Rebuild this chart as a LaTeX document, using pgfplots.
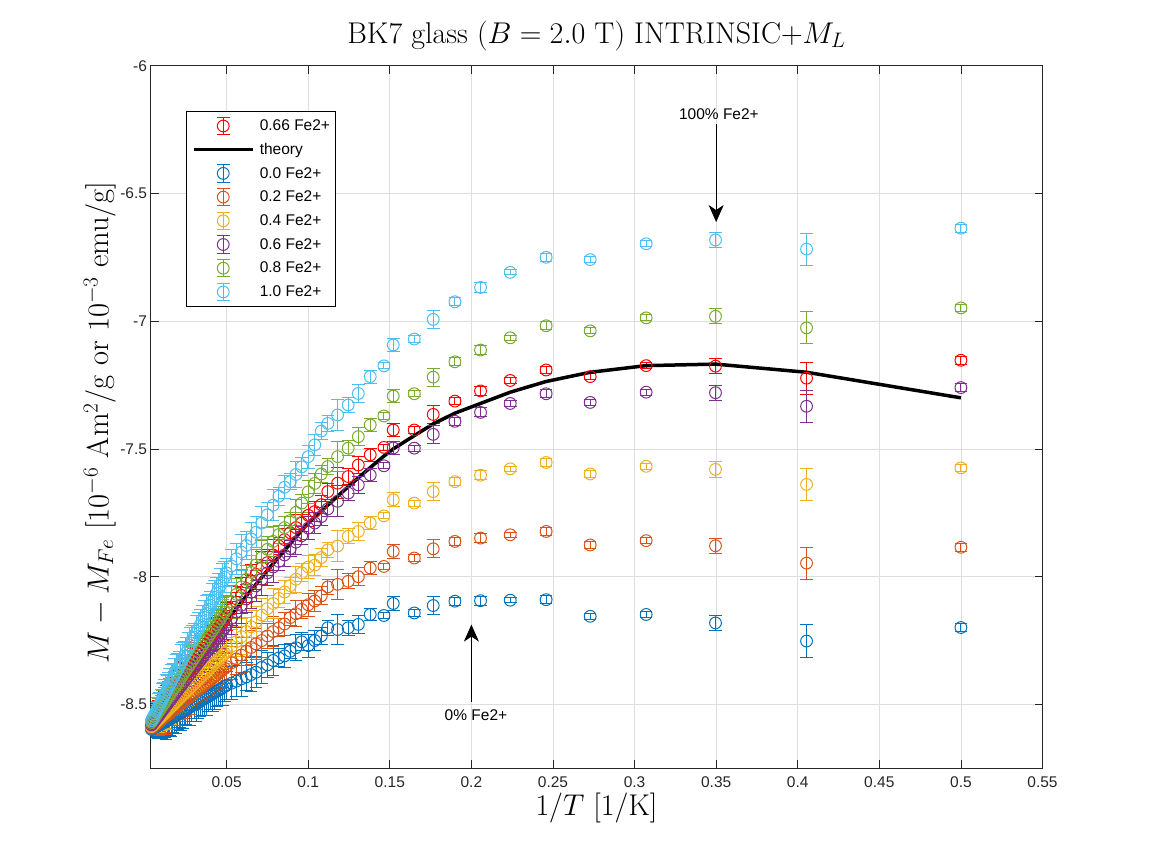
\RequirePackage{fix-cm}
\documentclass[border=0pt]{standalone}
\usepackage{fontspec}
\usepackage{pgfplots}
\pgfplotsset{compat=1.18}
\usepackage{pgfplotstable}
\usetikzlibrary{arrows.meta}
\newfontfamily\arial{Liberation Sans}
\definecolor{c0}{rgb}{0,0.447,0.741}
\definecolor{c1}{rgb}{0.85,0.325,0.098}
\definecolor{c2}{rgb}{0.929,0.694,0.125}
\definecolor{c3}{rgb}{0.494,0.184,0.556}
\definecolor{c4}{rgb}{0.466,0.674,0.188}
\definecolor{c5}{rgb}{0.301,0.745,0.933}
\definecolor{cR}{rgb}{1,0,0}
\definecolor{gridc}{RGB}{222,222,222}
\definecolor{axc}{RGB}{38,38,38}

\pgfplotstableread{
x err y0 y2 y4 y6 y8 y10 yR th
0.00333 0.020 -8.600 -8.595 -8.590 -8.585 -8.575 -8.570 -8.580 -8.557
0.0039 0.025 -8.598 -8.593 -8.587 -8.580 -8.570 -8.563 -8.575 -8.552
0.0045 0.025 -8.596 -8.590 -8.583 -8.575 -8.564 -8.555 -8.569 -8.547
0.00525 0.030 -8.593 -8.586 -8.578 -8.569 -8.557 -8.546 -8.563 -8.541
0.006 0.035 -8.590 -8.582 -8.573 -8.562 -8.550 -8.537 -8.556 -8.535
0.00675 0.035 -8.588 -8.578 -8.568 -8.556 -8.543 -8.528 -8.549 -8.529
0.0075 0.045 -8.585 -8.574 -8.563 -8.550 -8.535 -8.518 -8.542 -8.522
0.00825 0.050 -8.583 -8.570 -8.559 -8.544 -8.528 -8.509 -8.535 -8.516
0.009 0.045 -8.580 -8.566 -8.554 -8.537 -8.521 -8.499 -8.528 -8.510
0.00975 0.050 -8.577 -8.562 -8.549 -8.531 -8.514 -8.490 -8.522 -8.504
0.0105 0.060 -8.574 -8.558 -8.544 -8.524 -8.506 -8.480 -8.515 -8.497
0.01125 0.055 -8.572 -8.554 -8.540 -8.518 -8.499 -8.471 -8.508 -8.491
0.012 0.060 -8.569 -8.550 -8.535 -8.511 -8.492 -8.462 -8.501 -8.485
0.01275 0.070 -8.566 -8.546 -8.530 -8.505 -8.485 -8.453 -8.494 -8.479
0.0135 0.055 -8.563 -8.542 -8.525 -8.499 -8.477 -8.443 -8.487 -8.472
0.01425 0.060 -8.561 -8.538 -8.520 -8.493 -8.470 -8.434 -8.481 -8.466
0.015 0.065 -8.558 -8.534 -8.515 -8.486 -8.463 -8.424 -8.474 -8.460
0.016 0.070 -8.555 -8.529 -8.509 -8.478 -8.454 -8.412 -8.465 -8.452
0.017 0.060 -8.551 -8.524 -8.503 -8.469 -8.444 -8.399 -8.455 -8.443
0.018 0.065 -8.547 -8.519 -8.497 -8.461 -8.435 -8.387 -8.446 -8.435
0.019 0.070 -8.543 -8.513 -8.490 -8.452 -8.425 -8.374 -8.437 -8.427
0.020 0.060 -8.540 -8.508 -8.484 -8.444 -8.415 -8.362 -8.428 -8.419
0.021 0.055 -8.536 -8.503 -8.477 -8.435 -8.405 -8.349 -8.419 -8.410
0.022 0.070 -8.532 -8.498 -8.471 -8.427 -8.396 -8.337 -8.410 -8.402
0.023 0.065 -8.528 -8.492 -8.464 -8.418 -8.386 -8.324 -8.401 -8.394
0.024 0.060 -8.524 -8.487 -8.458 -8.410 -8.377 -8.312 -8.392 -8.386
0.025 0.060 -8.520 -8.482 -8.452 -8.401 -8.367 -8.299 -8.383 -8.377
0.02625 0.065 -8.516 -8.476 -8.444 -8.391 -8.355 -8.284 -8.372 -8.367
0.0275 0.070 -8.511 -8.469 -8.436 -8.380 -8.343 -8.268 -8.360 -8.356
0.02875 0.060 -8.506 -8.463 -8.428 -8.369 -8.331 -8.253 -8.349 -8.346
0.030 0.055 -8.501 -8.456 -8.420 -8.358 -8.319 -8.237 -8.337 -8.336
0.03125 0.070 -8.497 -8.450 -8.412 -8.348 -8.307 -8.221 -8.326 -8.326
0.0325 0.065 -8.492 -8.443 -8.404 -8.337 -8.295 -8.205 -8.314 -8.315
0.03375 0.060 -8.487 -8.437 -8.396 -8.327 -8.283 -8.190 -8.303 -8.305
0.035 0.060 -8.482 -8.430 -8.388 -8.316 -8.271 -8.174 -8.292 -8.294
0.03625 0.065 -8.478 -8.424 -8.380 -8.306 -8.259 -8.159 -8.281 -8.284
0.0375 0.070 -8.473 -8.417 -8.372 -8.295 -8.247 -8.143 -8.269 -8.274
0.03875 0.060 -8.468 -8.411 -8.364 -8.285 -8.235 -8.128 -8.258 -8.264
0.040 0.055 -8.463 -8.404 -8.356 -8.274 -8.223 -8.112 -8.246 -8.253
0.04125 0.070 -8.459 -8.398 -8.348 -8.263 -8.211 -8.096 -8.235 -8.243
0.0425 0.065 -8.454 -8.391 -8.340 -8.252 -8.199 -8.080 -8.223 -8.232
0.04375 0.060 -8.449 -8.385 -8.332 -8.242 -8.187 -8.065 -8.212 -8.222
0.045 0.060 -8.444 -8.378 -8.324 -8.231 -8.175 -8.049 -8.201 -8.211
0.04625 0.065 -8.440 -8.372 -8.316 -8.221 -8.163 -8.034 -8.190 -8.201
0.0475 0.070 -8.435 -8.365 -8.308 -8.210 -8.151 -8.018 -8.178 -8.191
0.04875 0.060 -8.430 -8.359 -8.300 -8.200 -8.139 -8.002 -8.167 -8.181
0.050 0.055 -8.425 -8.352 -8.292 -8.189 -8.127 -7.985 -8.155 -8.170
0.053 0.065 -8.417 -8.337 -8.273 -8.163 -8.098 -7.958 -8.128 -8.147
0.056 0.060 -8.409 -8.322 -8.254 -8.138 -8.069 -7.930 -8.100 -8.123
0.059 0.070 -8.400 -8.307 -8.235 -8.112 -8.040 -7.904 -8.073 -8.100
0.062 0.055 -8.392 -8.292 -8.215 -8.087 -8.011 -7.878 -8.046 -8.076
0.065 0.065 -8.383 -8.277 -8.196 -8.061 -7.983 -7.852 -8.018 -8.053
0.068 0.060 -8.374 -8.263 -8.177 -8.036 -7.954 -7.826 -7.991 -8.030
0.0715 0.065 -8.355 -8.250 -8.150 -8.010 -7.925 -7.790 -7.965 -8.003
0.075 0.050 -8.345 -8.232 -8.125 -7.985 -7.893 -7.758 -7.945 -7.975
0.0785 0.060 -8.328 -8.215 -8.105 -7.962 -7.862 -7.720 -7.915 -7.949
0.082 0.035 -8.318 -8.200 -8.085 -7.940 -7.835 -7.685 -7.880 -7.923
0.0855 0.045 -8.310 -8.185 -8.060 -7.915 -7.808 -7.650 -7.855 -7.897
0.089 0.030 -8.292 -8.160 -8.035 -7.890 -7.780 -7.628 -7.828 -7.871
0.0925 0.050 -8.278 -8.145 -8.010 -7.865 -7.748 -7.600 -7.808 -7.845
0.096 0.035 -8.255 -8.128 -7.985 -7.840 -7.712 -7.570 -7.790 -7.819
0.100 0.045 -8.270 -8.110 -7.962 -7.810 -7.668 -7.530 -7.760 -7.790
0.104 0.040 -8.250 -8.095 -7.955 -7.790 -7.635 -7.484 -7.745 -7.766
0.108 0.035 -8.232 -8.075 -7.925 -7.765 -7.598 -7.430 -7.718 -7.743
0.112 0.030 -8.200 -8.040 -7.895 -7.735 -7.569 -7.400 -7.667 -7.720
0.118 0.060 -8.207 -8.030 -7.880 -7.705 -7.530 -7.367 -7.634 -7.685
0.1245 0.030 -8.200 -8.018 -7.842 -7.673 -7.497 -7.328 -7.608 -7.648
0.1307 0.035 -8.187 -8.000 -7.823 -7.641 -7.452 -7.283 -7.563 -7.613
0.138 0.025 -8.148 -7.966 -7.790 -7.602 -7.406 -7.217 -7.523 -7.573
0.1464 0.012 -8.152 -7.960 -7.762 -7.566 -7.371 -7.175 -7.494 -7.528
0.1521 0.027 -8.105 -7.901 -7.699 -7.496 -7.293 -7.093 -7.426 -7.500
0.1650 0.012 -8.142 -7.927 -7.712 -7.497 -7.284 -7.070 -7.426 -7.448
0.1766 0.035 -8.113 -7.891 -7.667 -7.443 -7.219 -6.993 -7.365 -7.402
0.1899 0.015 -8.096 -7.862 -7.628 -7.392 -7.159 -6.924 -7.313 -7.360
0.2056 0.018 -8.094 -7.849 -7.603 -7.357 -7.113 -6.868 -7.273 -7.322
0.2238 0.010 -8.092 -7.836 -7.578 -7.322 -7.065 -6.809 -7.232 -7.278
0.2458 0.015 -8.090 -7.823 -7.553 -7.284 -7.018 -6.750 -7.191 -7.236
0.2728 0.012 -8.155 -7.876 -7.598 -7.318 -7.038 -6.759 -7.217 -7.200
0.3071 0.012 -8.148 -7.859 -7.568 -7.278 -6.987 -6.697 -7.174 -7.174
0.3496 0.030 -8.181 -7.879 -7.580 -7.280 -6.981 -6.682 -7.176 -7.168
0.4054 0.063 -8.252 -7.947 -7.639 -7.333 -7.026 -6.718 -7.223 -7.200
0.5 0.015 -8.199 -7.885 -7.574 -7.260 -6.948 -6.636 -7.153 -7.300
}\data

\newcommand{\ebsym}[1]{%
  \path[draw=none, fill=none] (0pt,-11.85pt) rectangle (59pt,11.85pt);
  \draw[#1, line width=1pt] (29.5pt,-8.7pt) -- (29.5pt,8.7pt)
     (23.2pt,8.7pt) -- (35.8pt,8.7pt) (23.2pt,-8.7pt) -- (35.8pt,-8.7pt);
  \draw[#1, line width=1pt, fill=none] (29.5pt,0pt) circle (5.9pt);
}
\newcommand{\lnsym}{%
  \path[draw=none, fill=none] (0pt,-11.85pt) rectangle (59pt,11.85pt);
  \draw[black, line width=3.5pt] (0pt,0pt) -- (59pt,0pt);
}

\pgfplotsset{
  ebplot/.style={only marks, mark=o, color=#1, mark size=5.9pt,
    mark options={line width=1pt, solid},
    error bars/y dir=both, error bars/y explicit,
    error bars/error bar style={line width=1pt, color=#1},
    error bars/error mark options={rotate=90, line width=1pt, mark size=6.3pt, color=#1}},
}

\begin{document}
\begin{tikzpicture}
\path[use as bounding box] (0,0) rectangle (1152pt,864pt);
\begin{axis}[
  at={(150.5pt,95.7pt)}, anchor=south west,
  scale only axis, width=892pt, height=702.6pt,
  xmin=0.003333, xmax=0.55, ymin=-8.75, ymax=-6,
  xtick={0.05,0.1,0.15,0.2,0.25,0.3,0.35,0.4,0.45,0.5,0.55},
  ytick={-8.5,-8,-7.5,-7,-6.5,-6},
  scaled ticks=false,
  grid=major,
  major grid style={draw=gridc, line width=0.7pt},
  axis line style={draw=axc, line width=0.8pt},
  tick style={draw=axc, line width=0.8pt},
  major tick length=8pt,
  tick align=inside,
  /pgf/number format/assume math mode=true,
  ticklabel style={font={\arial\fontsize{15.5}{18}\selectfont}, text=axc},
  xticklabel style={yshift=-5pt, /pgf/number format/fixed, /pgf/number format/precision=2},
  yticklabel style={/pgf/number format/fixed, /pgf/number format/precision=1},
  title={BK7 glass ($B = 2.0$ T) INTRINSIC+$M_L$},
  title style={font={\fontsize{30}{36}\selectfont}, at={(axis description cs:0.5,1)}, anchor=base, yshift=16.4pt},
  xlabel={$1/T$ [1/K]},
  xlabel style={font={\fontsize{30}{36}\selectfont}, at={(axis description cs:0.5,0)}, anchor=base, yshift=-47.7pt},
  ylabel={$M - M_{Fe}$ [$10^{-6}$ Am$^2$/g or $10^{-3}$ emu/g]},
  ylabel style={font={\fontsize{30.5}{36}\selectfont}, at={(axis description cs:-0.0566,0.492)}, anchor=center},
  legend style={at={(0.0398,0.9355)}, anchor=north west, draw=black, line width=0.6pt, fill=white,
    inner xsep=5.7pt, inner ysep=2.85pt, row sep=0pt, column sep=5.3pt,
    font={\arial\fontsize{15.5}{18}\selectfont}, nodes={inner sep=0pt}, cells={anchor=west}},
]
\addplot[legend image code/.code={\ebsym{cR}}, ebplot=cR] table[x=x, y=yR, y error=err] {\data};
\addlegendentry{0.66 Fe2+}
\addplot[black, line width=3.5pt, no marks, legend image code/.code={\lnsym}] table[x=x, y=th] {\data};
\addlegendentry{theory}
\addplot[legend image code/.code={\ebsym{c0}}, ebplot=c0] table[x=x, y=y0, y error=err] {\data};
\addlegendentry{0.0 Fe2+}
\addplot[legend image code/.code={\ebsym{c1}}, ebplot=c1] table[x=x, y=y2, y error=err] {\data};
\addlegendentry{0.2 Fe2+}
\addplot[legend image code/.code={\ebsym{c2}}, ebplot=c2] table[x=x, y=y4, y error=err] {\data};
\addlegendentry{0.4 Fe2+}
\addplot[legend image code/.code={\ebsym{c3}}, ebplot=c3] table[x=x, y=y6, y error=err] {\data};
\addlegendentry{0.6 Fe2+}
\addplot[legend image code/.code={\ebsym{c4}}, ebplot=c4] table[x=x, y=y8, y error=err] {\data};
\addlegendentry{0.8 Fe2+}
\addplot[legend image code/.code={\ebsym{c5}}, ebplot=c5] table[x=x, y=y10, y error=err] {\data};
\addlegendentry{1.0 Fe2+}

\draw[-{Stealth[length=17pt,width=15pt,inset=5pt]}, line width=0.8pt, black] (axis cs:0.35,-6.23) -- (axis cs:0.35,-6.612);
\node[font={\arial\fontsize{15.5}{18}\selectfont}] at (axis cs:0.3517,-6.19) {100\% Fe2+};
\draw[-{Stealth[length=17pt,width=15pt,inset=5pt]}, line width=0.8pt, black] (axis cs:0.2,-8.49) -- (axis cs:0.2,-8.1875);
\node[font={\arial\fontsize{15.5}{18}\selectfont}] at (axis cs:0.2028,-8.543) {0\% Fe2+};
\end{axis}
\end{tikzpicture}
\end{document}
